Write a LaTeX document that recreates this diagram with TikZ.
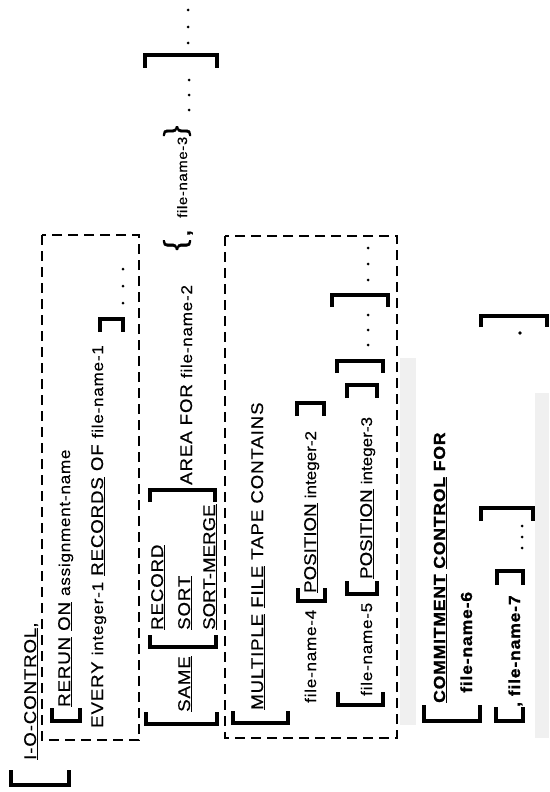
\documentclass[tikz,border=0pt]{standalone}
\usepackage{fontspec}
\setmainfont{Liberation Sans}[FakeStretch=1.1,LetterSpace=5,UprightFeatures={FakeBold=0.3},BoldFeatures={FakeBold=1}]
\usetikzlibrary{positioning}

\newcommand{\vname}[1]{{\fontsize{15.5}{18}\selectfont #1}}
% bracket: x1, x2, y of bar, signed serif length
\newcommand{\brk}[4]{\draw[brk] (#1,#3+#4) -- (#1,#3) -- (#2,#3) -- (#2,#3+#4);}

\begin{document}
\begin{tikzpicture}[
    x=1pt, y=-1pt,
    txt/.style={rotate=90, anchor=base west, inner sep=0pt, font=\fontsize{17}{20}\selectfont},
    btxt/.style={txt, font=\fontsize{16}{20}\selectfont\bfseries},
    glyph/.style={rotate=90, inner sep=0pt, font=\fontsize{30}{30}\selectfont},
    brk/.style={line width=3.5pt, line join=miter},
    frame/.style={dash pattern=on 10pt off 6pt, line width=1.3pt},
    shade/.style={fill=black!6}
  ]
  \useasboundingbox (0,0) rectangle (549,792);

  % screened band behind the commitment clause
  \fill[shade] (400,358) rectangle (416,725);
  \fill[shade] (535,393) rectangle (549,738);

  % dashed groups
  \draw[frame] (42,235) rectangle (139,740);
  \draw[frame] (225,236) rectangle (397,738);

  % I-O-CONTROL
  \brk{11}{69}{785}{-15}
  \node[txt] (ioctl) at (36,760) {\underline{I-O-CONTROL},};

  % RERUN clause
  \brk{52}{80}{721}{-13}
  \node[txt] (rerun) at (70,707) {\underline{RERUN} \underline{ON} \vname{assignment-name}};
  \node[txt] (every) at (103,728) {EVERY \vname{integer-1} \underline{RECORDS} OF \vname{file-name-1}};
  \brk{100}{123}{319}{13}
  \foreach \y in {269,286,303} \fill (123,\y) circle (1.5pt);

  % SAME clause
  \brk{146}{217}{724}{-12}
  \node[txt] (same) at (190,712) {\underline{SAME}};
  \brk{150}{216}{647}{-12}
  \node[txt] (record) at (163,630) {\underline{RECORD}};
  \node[txt] (sort) at (190,630) {\underline{SORT}};
  \node[txt] (sortmerge) at (215,630) {\addfontfeature{LetterSpace=0}\underline{SORT-MERGE}};
  \brk{150}{215}{490}{12}
  \node[txt] (area) at (192,485) {AREA FOR \vname{file-name-2}};
  \node[glyph] (lbrace) at (177,245) {\{};
  \node[txt, font=\fontsize{18}{20}\selectfont\bfseries] (comma) at (190,236) {,};
  \node[txt, font=\fontsize{13.5}{15}\selectfont] (fn3) at (187,218) {file-name-3};
  \node[glyph] (rbrace) at (177,131) {\}};
  \foreach \y in {80,95,110} \fill (189,\y) circle (1.5pt);
  \brk{145}{217}{55}{13}
  \foreach \y in {10,27,43} \fill (188,\y) circle (1.5pt);

  % MULTIPLE FILE clause
  \brk{233}{288}{723}{-12}
  \node[txt] (multiple) at (263,710) {\underline{MULTIPLE} \underline{FILE} TAPE CONTAINS};
  \node[txt] (fn4) at (316,703) {\vname{file-name-4}};
  \brk{298}{325}{601}{-13}
  \node[txt] (pos2) at (316,593) {\addfontfeature{LetterSpace=0}\underline{POSITION} \vname{integer-2}};
  \brk{297}{324}{403}{13}
  \brk{338}{383}{705}{-13}
  \node[txt] (fn5) at (372,696) {\vname{file-name-5}};
  \brk{347}{377}{594}{-13}
  \node[txt] (pos3) at (372,579) {\addfontfeature{LetterSpace=0}\underline{POSITION} \vname{integer-3}};
  \brk{347}{377}{385}{13}
  \brk{337}{383}{361}{12}
  \foreach \y in {315,330,345} \fill (368,\y) circle (1.5pt);
  \brk{332}{388}{295}{12}
  \foreach \y in {248,264,280} \fill (368,\y) circle (1.5pt);

  % COMMITMENT CONTROL clause
  \brk{424}{480}{721}{-16}
  \node[btxt] (commit) at (445,703) {\underline{COMMITMENT} \underline{CONTROL} FOR};
  \node[btxt] (fn6) at (472,693) {file-name-6};
  \brk{496}{523}{721}{-14}
  \node[btxt] (fn7) at (520,707) {, file-name-7};
  \brk{497}{523}{571}{14}
  \foreach \y in {526,537,548} \fill (522,\y) circle (1.5pt);
  \brk{481}{533}{508}{13}
  \fill (520,333) circle (1.8pt);
  \brk{481}{547}{316}{11}
\end{tikzpicture}
\end{document}
